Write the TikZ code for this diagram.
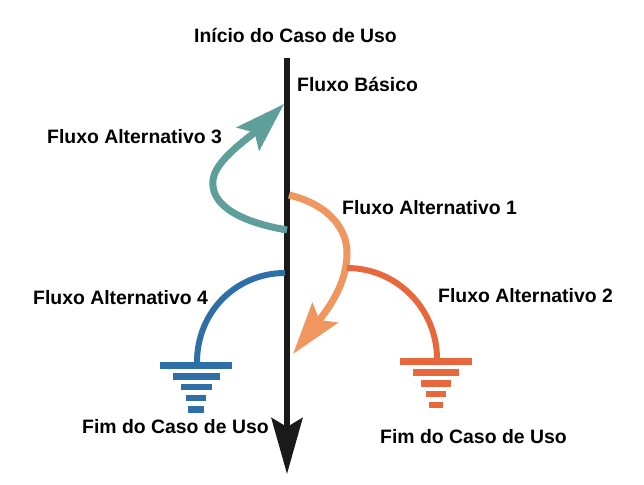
\documentclass[tikz,border=0pt]{standalone}
\usepackage{fontspec}
\setmainfont{Liberation Sans}
\usetikzlibrary{arrows.meta}
\definecolor{cteal}{HTML}{5E9E9B}
\definecolor{corange}{HTML}{F0975F}
\definecolor{cred}{HTML}{E8683D}
\definecolor{cblue}{HTML}{2F6FA7}
\definecolor{cblack}{HTML}{1A1A1A}
\tikzset{
  lbl/.style={font=\fontsize{19.4}{22}\selectfont\bfseries, inner sep=0pt},
}
\begin{document}
\begin{tikzpicture}[x=1pt,y=-1pt]
\useasboundingbox (0,0) rectangle (644,484);
% coordinates
\coordinate (top) at (287,58);
\coordinate (bot) at (287,474);
\coordinate (t0) at (287,230);
\coordinate (t1) at (213,180);
\coordinate (t2) at (284,104);
\coordinate (o0) at (289,195);
\coordinate (o1) at (347,255);
\coordinate (o2) at (293,354);
\coordinate (r0) at (347,268);
\coordinate (r1) at (437,359);
\coordinate (b0) at (285,273);
\coordinate (b1) at (197,362);
% main line
\draw[cblack, line width=6pt, -{Stealth[length=56pt,width=31pt,inset=9pt]}] (top) -- (bot);
% teal
\draw[cteal, line width=7pt, -{Stealth[length=50pt,width=32pt,inset=9pt]}]
  (t0) .. controls (240,222) and (210,205) .. (t1) .. controls (215,160) and (250,137) .. (t2);
% orange
\draw[corange, line width=7pt, -{Stealth[length=52pt,width=32pt,inset=9pt]}]
  (o0) .. controls (330,205) and (348,230) .. (o1) .. controls (346,280) and (335,300) .. (o2);
% red
\draw[cred, line width=6pt] (r0) .. controls (397,268) and (437,309) .. (r1);
% blue
\draw[cblue, line width=6pt] (b0) .. controls (236,273) and (197,312) .. (b1);
% grounds
\fill[cred] (400,358) rectangle (472,365);
\fill[cred] (413,369) rectangle (459,376);
\fill[cred] (421,380) rectangle (451,387);
\fill[cred] (426,391) rectangle (446,397);
\fill[cred] (429,402) rectangle (443,408);
\fill[cblue] (160,362) rectangle (232,369);
\fill[cblue] (173,373) rectangle (220,380);
\fill[cblue] (181,384) rectangle (212,390);
\fill[cblue] (186,395) rectangle (206,401);
\fill[cblue] (188,406) rectangle (204,413);
% labels
\node[lbl] (ini) at (295.5,35) {Início do Caso de Uso};
\node[lbl, anchor=west] (fb) at (297,84) {Fluxo Básico};
\node[lbl, anchor=west] (fa3) at (47,137) {Fluxo Alternativo 3};
\node[lbl, anchor=west] (fa1) at (342,208) {Fluxo Alternativo 1};
\node[lbl, anchor=west] (fa2) at (438,296) {Fluxo Alternativo 2};
\node[lbl, anchor=west] (fa4) at (33,298) {Fluxo Alternativo 4};
\node[lbl, anchor=west] (fim1) at (82,427) {Fim do Caso de Uso};
\node[lbl, anchor=west] (fim2) at (380,437) {Fim do Caso de Uso};
\end{tikzpicture}
\end{document}
